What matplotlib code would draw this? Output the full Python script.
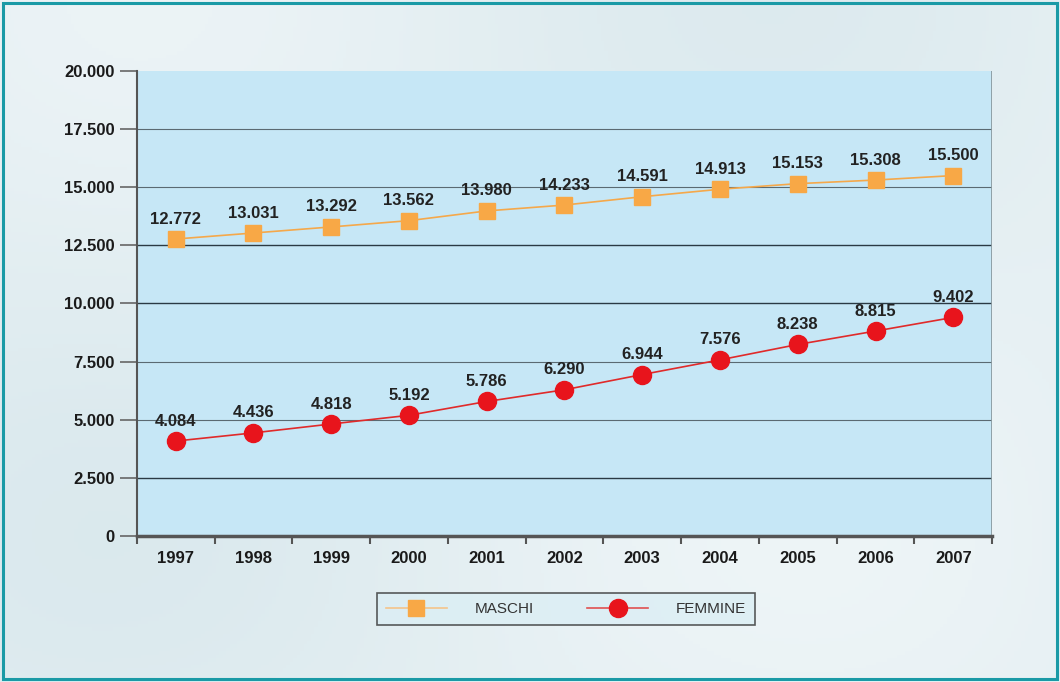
import matplotlib
matplotlib.use("Agg")
import matplotlib.pyplot as plt
from matplotlib.patches import Rectangle
from matplotlib.lines import Line2D
import numpy as np

years = ["1997", "1998", "1999", "2000", "2001", "2002", "2003", "2004", "2005", "2006", "2007"]
maschi = [12772, 13031, 13292, 13562, 13980, 14233, 14591, 14913, 15153, 15308, 15500]
femmine = [4084, 4436, 4818, 5192, 5786, 6290, 6944, 7576, 8238, 8815, 9402]
yticks = [0, 2500, 5000, 7500, 10000, 12500, 15000, 17500, 20000]
ytick_labels = ["0", "2.500", "5.000", "7.500", "10.000", "12.500", "15.000", "17.500", "20.000"]

def fmt(v):
    return f"{v:,}".replace(",", ".")

plt.rcParams['font.family'] = ['Liberation Sans', 'DejaVu Sans']

fig = plt.figure(figsize=(10.6, 6.82), dpi=100)
fig.patch.set_facecolor("#e2eff3")

# background gradient
bg = fig.add_axes([0, 0, 1, 1], zorder=-10)
yy, xx = np.mgrid[0:1:200j, 0:1:300j]
grad = 0.6 + 0.25 * np.sin(xx * 5 + 1) * np.cos(yy * 4) + 0.1 * xx
bg.imshow(grad, cmap=matplotlib.colors.LinearSegmentedColormap.from_list("bgc", ["#cfe2e8", "#f0f6f8"]),
          aspect="auto", extent=[0, 1, 0, 1], vmin=0, vmax=1)
bg.set_xlim(0, 1); bg.set_ylim(0, 1)
bg.axis("off")
bg.add_patch(Rectangle((0.003, 0.004), 0.994, 0.992, transform=bg.transAxes,
                       fill=False, edgecolor="#1a9aa6", linewidth=2.2))

ax = fig.add_axes([0.129, 0.214, 0.807, 0.682])
ax.set_facecolor("#c6e7f6")
x = np.arange(len(years))

ax.plot(x, maschi, color="#f5a84a", linewidth=1.2, marker="s", markersize=12,
        markerfacecolor="#f8a846", markeredgecolor="#f8a846", zorder=3, label="MASCHI")
ax.plot(x, femmine, color="#e02a2a", linewidth=1.2, marker="o", markersize=13,
        markerfacecolor="#e8141c", markeredgecolor="#e8141c", zorder=3, label="FEMMINE")

for xi, v in zip(x, maschi):
    ax.annotate(fmt(v), (xi, v), xytext=(0, 9), textcoords="offset points",
                ha="center", va="bottom", fontsize=12, fontweight="bold", color="#222222")
for xi, v in zip(x, femmine):
    ax.annotate(fmt(v), (xi, v), xytext=(0, 9), textcoords="offset points",
                ha="center", va="bottom", fontsize=12, fontweight="bold", color="#222222")

ax.set_xlim(-0.5, len(years) - 0.5)
ax.set_ylim(0, 20000)
ax.set_yticks(yticks)
ax.set_yticklabels(ytick_labels, fontsize=12, fontweight="bold", color="#1a1a1a")
ax.set_xticks(x)
ax.set_xticklabels(years, fontsize=12, fontweight="bold", color="#1a1a1a")
ax.set_xticks(np.arange(-0.5, len(years)), minor=True)
ax.tick_params(axis="x", which="major", length=0, pad=11)
ax.tick_params(axis="x", which="minor", length=6, color="#555555", width=1.5)
ax.tick_params(axis="y", length=12, color="#666666", width=1.2, pad=4)

for t in yticks[1:-1]:
    dark = t in (2500, 10000, 12500)
    ax.axhline(t, color="#2a3a44" if dark else "#5a6a72", linewidth=1.0 if dark else 0.8, zorder=1)

for side in ["top", "right"]:
    ax.spines[side].set_visible(False)
ax.spines["left"].set_color("#555555")
ax.spines["left"].set_linewidth(1.5)
ax.spines["bottom"].set_color("#555555")
ax.spines["bottom"].set_linewidth(2.5)
ax.axvline(len(years) - 0.5, color="#8a9aa0", linewidth=2, zorder=2)

leg = fig.legend(handles=[
    Line2D([0], [0], color="#f5c48a", lw=1.2, marker="s", markersize=12,
           markerfacecolor="#f8a846", markeredgecolor="#f8a846"),
    Line2D([0], [0], color="#e05050", lw=1.2, marker="o", markersize=13,
           markerfacecolor="#e8141c", markeredgecolor="#e8141c")],
    labels=["MASCHI", "FEMMINE"], loc="center", bbox_to_anchor=(0.534, 0.107),
    ncol=2, frameon=True, fancybox=False, fontsize=11, handlelength=4,
    columnspacing=3.5, handletextpad=1.8, borderpad=0.6)
leg.get_frame().set_edgecolor("#333333")
leg.get_frame().set_facecolor("#dbeef4")
leg.get_frame().set_linewidth(1.2)
for t in leg.get_texts():
    t.set_color("#333333")

fig.savefig("out.png", dpi=100, facecolor=fig.get_facecolor())
